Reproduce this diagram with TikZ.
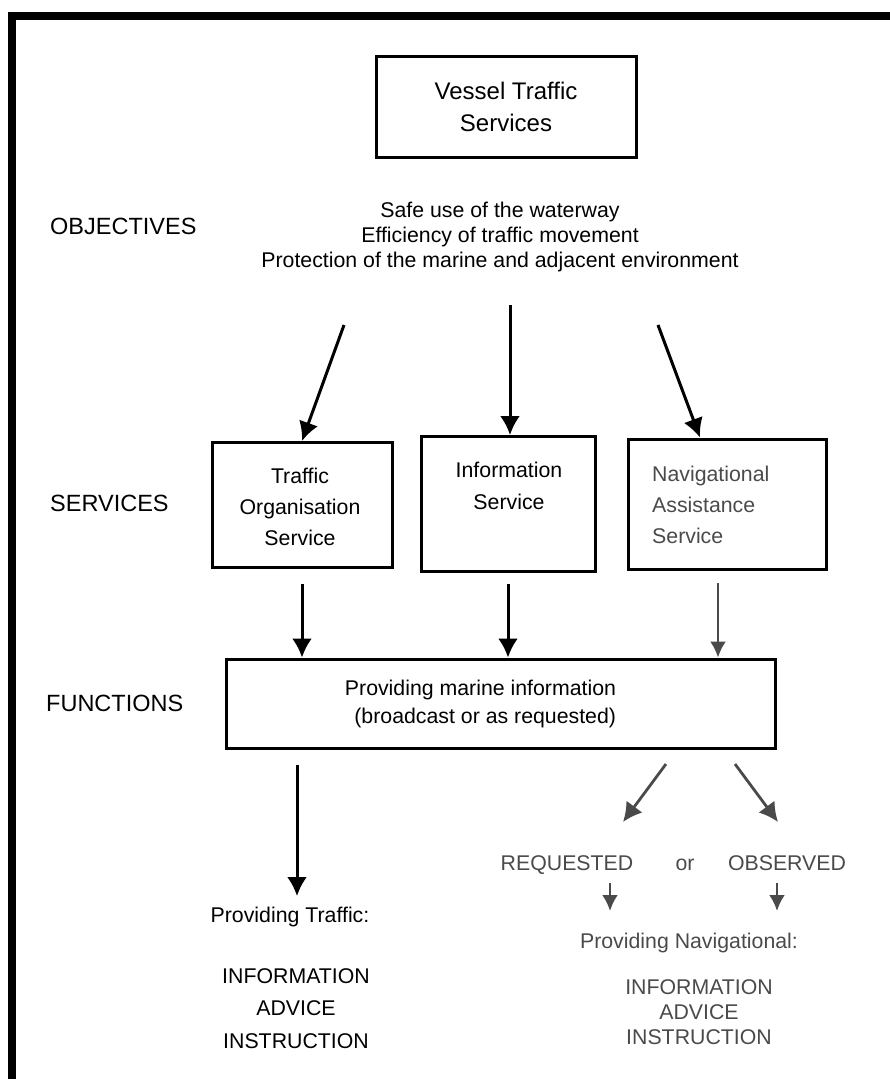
\documentclass[tikz,border=0pt]{standalone}
\usepackage{fontspec}
\setmainfont{Liberation Sans}
\usetikzlibrary{arrows.meta}
\definecolor{navgray}{HTML}{4A4A4A}
\tikzset{
  box/.style={draw,line width=3,inner sep=0},
  txt/.style={font=\fontsize{21.3}{31}\selectfont,align=center,inner sep=0},
  lvl/.style={font=\fontsize{23.5}{28}\selectfont,anchor=west,inner sep=0},
  arr/.style={->,line width=3},
  garr/.style={->,line width=2.8,navgray},
  small/.style={>={Latex[length=16pt,width=16pt]}},
}
\begin{document}
\begin{tikzpicture}[x=1pt,y=-1pt,>={Latex[length=19pt,width=20pt]}]
  \useasboundingbox (0,0) rectangle (890,1079);
  % frame
  \draw[line width=8] (12,1079) -- (12,16) -- (890,16);
  % title
  \path (506,107) node [box,minimum width=260,minimum height=101,
    txt,font=\fontsize{24}{32}\selectfont](vts){Vessel Traffic\\Services};
  % left hand labels
  \path (50,226) node [lvl](objectives){OBJECTIVES}
        (50,503) node [lvl](services){SERVICES}
        (46,703) node [lvl](functions){FUNCTIONS};
  \path (500,237) node [txt,font=\fontsize{21.3}{25}\selectfont](aims)
    {Safe use of the waterway\\Efficiency of traffic movement\\Protection of the marine and adjacent environment};
  % services
  \path (302,505) node [box,minimum width=180,minimum height=125](tos){}
        (508,504) node [box,minimum width=174,minimum height=135](is){}
        (727,504) node [box,minimum width=198,minimum height=130](nas){};
  \path (300,507) node [txt](tostext){Traffic\\Organisation\\Service}
        (509,486) node [txt,font=\fontsize{21.3}{32}\selectfont](istext){Information\\Service}
        (652,505) node [txt,align=left,anchor=west,navgray](nastext){Navigational\\Assistance\\Service};
  \coordinate (a1) at (344,325);
  \coordinate (a2) at (510,305);
  \coordinate (a3) at (658,325);
  \draw[arr] (a1) -- (tos.north);
  \draw[arr] (a2) -- (is.north -| a2);
  \draw[arr] (a3) -- (nas.north -| 700,0);
  % functions
  \path (500.5,703.5) node [box,minimum width=549,minimum height=89](pmi){};
  \path (480.5,704) node [txt,align=right,font=\fontsize{21.3}{28}\selectfont](pmitext)
    {Providing marine information\\(broadcast or as requested)};
  \draw[arr] (tos.south) ++(0,15) -- (pmi.north -| tos.south);
  \draw[arr] (is.south) ++(0,11) -- (pmi.north -| is.south);
  \draw[garr,line width=2.4,small] (718,583) -- (pmi.north -| 718,0);
  % traffic side
  \coordinate (b1) at (297,765);
  \coordinate (b2) at (297,896);
  \path (290,922) node [txt,anchor=base](pt){Providing Traffic:}
        (296,1008.5) node [txt,font=\fontsize{21.3}{32.5}\selectfont](tlist){INFORMATION\\ADVICE\\INSTRUCTION};
  \draw[arr] (b1) -- (b2);
  % navigational side
  \path (567,870) node [txt,anchor=base,navgray](req){REQUESTED}
        (685,870) node [txt,anchor=base,navgray](or){or}
        (787,870) node [txt,anchor=base,navgray](obs){OBSERVED}
        (689,948) node [txt,anchor=base,navgray](pn){Providing Navigational:}
        (699,1012) node [txt,navgray,font=\fontsize{21.3}{25}\selectfont](nlist){INFORMATION\\ADVICE\\INSTRUCTION};
  \coordinate (c1) at (666,764);
  \coordinate (c2) at (735,764);
  \coordinate (c3) at (623,822);
  \coordinate (c4) at (778,822);
  \coordinate (d1) at (610,883);
  \coordinate (d2) at (777,883);
  \draw[garr] (c1) -- (c3);
  \draw[garr] (c2) -- (c4);
  \draw[garr,small] (d1) -- ++(0,28);
  \draw[garr,small] (d2) -- ++(0,28);
\end{tikzpicture}
\end{document}
